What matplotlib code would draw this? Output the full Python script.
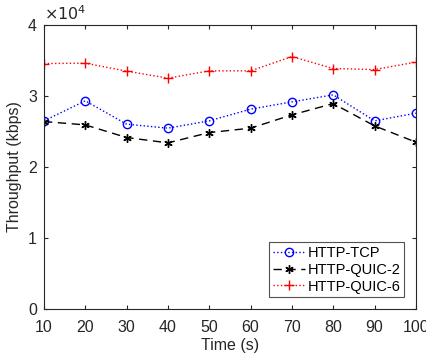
import matplotlib
matplotlib.use("Agg")
import matplotlib.pyplot as plt

plt.rcParams['font.family'] = ['Liberation Sans', 'DejaVu Sans']

time_s = [10, 20, 30, 40, 50, 60, 70, 80, 90, 100]
http_tcp = [26480, 29300, 26010, 25450, 26480, 28130, 29150, 30140, 26480, 27560]
http_quic2 = [26380, 25910, 24130, 23380, 24830, 25450, 27320, 28910, 25770, 23480]
http_quic6 = [34550, 34600, 33480, 32490, 33520, 33520, 35530, 33850, 33700, 34750]

fig = plt.figure(figsize=(4.27, 3.6), dpi=100)
ax = fig.add_axes([0.103, 0.142, 0.871, 0.789])

ax.plot(time_s, http_tcp, ':', color='blue', marker='o', mfc='none',
        ms=6, lw=1, label='HTTP-TCP')
ax.plot(time_s, http_quic2, '--', color='black', marker=(6, 2, 0),
        ms=6, lw=1, dashes=(6, 4), label='HTTP-QUIC-2')
ax.plot(time_s, http_quic6, ':', color='red', marker='+',
        ms=7, lw=1, label='HTTP-QUIC-6')

ax.set_xlim(10, 100)
ax.set_ylim(0, 40000)
ax.set_xticks(time_s)
ax.set_yticks([0, 10000, 20000, 30000, 40000])
ax.set_yticklabels(['0', '1', '2', '3', '4'])
ax.text(0.0, 1.005, r'$\times10^4$', transform=ax.transAxes, fontsize=11.5,
        color='0.15', ha='left', va='bottom')

ax.tick_params(direction='in', top=True, right=True, labelsize=11.5,
               colors='0.15', length=3)
ax.tick_params(axis='x', pad=8)
ax.tick_params(axis='y', pad=5)
for s in ax.spines.values():
    s.set_color('0.15')
ax.set_xlabel('Time (s)', fontsize=11.5, color='0.15', labelpad=2)
ax.set_ylabel('Throughput (kbps)', fontsize=11.5, color='0.15')

leg = ax.legend(loc='lower right', fontsize=10.5, frameon=True, fancybox=False,
                borderaxespad=0.8, handlelength=2.2, handletextpad=0.2,
                labelspacing=0.2, borderpad=0.25)
leg.get_frame().set_edgecolor('0.15')
leg.get_frame().set_linewidth(0.8)

fig.savefig('out.png', dpi=100)
